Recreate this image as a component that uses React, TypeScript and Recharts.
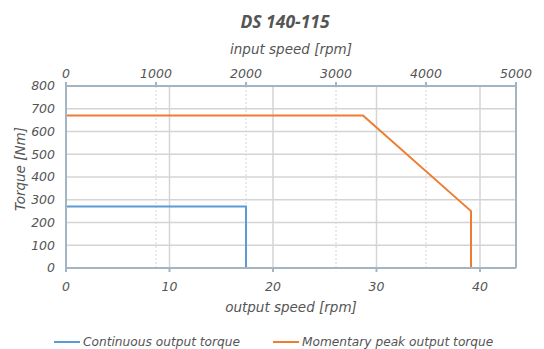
import React from 'react';
import { LineChart, Line, XAxis, YAxis, CartesianGrid, Label } from 'recharts';

const RATIO = 115;
const INPUT_MAX = 5000;
const inputTicks = [0, 1000, 2000, 3000, 4000, 5000];
const outputTicks = [0, 10, 20, 30, 40];
const torqueTicks = [0, 100, 200, 300, 400, 500, 600, 700, 800];

// input speed [rpm] -> torque [Nm]
const continuousRpm = [0, 2000, 2000];
const continuousTorque = [270, 270, 0];
const peakRpm = [0, 3300, 4500, 4500];
const peakTorque = [670, 670, 250, 0];

const continuousData = continuousRpm.map((r, i) => ({ rpm: r, torque: continuousTorque[i] }));
const peakData = peakRpm.map((r, i) => ({ rpm: r, torque: peakTorque[i] }));
const outputRange = [0, INPUT_MAX / RATIO].map((o) => ({ out: o, torque: null }));

const FONT = '"DejaVu Sans", sans-serif';
const TXT = '#555555';
const AXIS = '#a3b5c3';
const GRID = '#d4d4d4';
const BLUE = '#5b9bd5';
const ORANGE = '#ed7d31';

const tickStyle = { fill: TXT, fontSize: 12.5, fontStyle: 'italic', fontFamily: FONT };

export default function App() {
  return (
    <div style={{ position: 'fixed', left: 0, top: 0, width: 544, height: 349, background: '#fff', overflow: 'hidden' }}>
      <div
        style={{
          position: 'absolute', left: 0, top: 9, width: 570, textAlign: 'center', lineHeight: '24px',
          fontFamily: '"Open Sans", sans-serif', fontStyle: 'italic', fontWeight: 700, fontSize: 17.5, color: TXT,
        }}
      >
        DS 140-115
      </div>
      <LineChart width={544} height={349} margin={{ top: 30, right: 20, bottom: 36, left: 26 }}>
        <CartesianGrid xAxisId="bottom" yAxisId="left" stroke={GRID} strokeWidth={1.5} horizontal vertical />
        <CartesianGrid xAxisId="top" yAxisId="left" stroke={GRID} strokeDasharray="2 2" horizontal={false} vertical />
        <XAxis
          xAxisId="top" orientation="top" type="number" dataKey="rpm" domain={[0, INPUT_MAX]} ticks={inputTicks}
          allowDataOverflow height={56} tick={tickStyle} stroke={AXIS} strokeWidth={2} tickSize={4} tickMargin={4}
          tickLine={{ stroke: AXIS }} interval={0}
        >
          <Label value="input speed [rpm]" position="top" offset={-24} style={{ ...tickStyle, fontSize: 13.5 }} />
        </XAxis>
        <XAxis
          xAxisId="bottom" orientation="bottom" type="number" dataKey="out" domain={[0, INPUT_MAX / RATIO]}
          ticks={outputTicks} allowDataOverflow height={45} tick={tickStyle} stroke={AXIS} strokeWidth={2}
          tickSize={4} tickMargin={10} tickLine={{ stroke: AXIS }} interval={0}
        >
          <Label value="output speed [rpm]" position="bottom" offset={-11} style={{ ...tickStyle, fontSize: 13.5 }} />
        </XAxis>
        <YAxis
          yAxisId="left" type="number" domain={[0, 800]} ticks={torqueTicks} width={40} tick={tickStyle}
          stroke={AXIS} strokeWidth={2} tickLine={false} tickSize={0} tickMargin={11} interval={0}
        >
          <Label value="Torque [Nm]" angle={-90} position="insideLeft" offset={-6} dy={-8}
            style={{ ...tickStyle, fontSize: 13.5, textAnchor: 'middle' }} />
        </YAxis>
        <YAxis
          yAxisId="right" orientation="right" type="number" domain={[0, 800]} ticks={torqueTicks} width={8}
          stroke={AXIS} strokeWidth={2} tickSize={4} tickLine={{ stroke: AXIS }} tickFormatter={() => ''} interval={0}
        />
        <Line xAxisId="bottom" yAxisId="left" data={outputRange} dataKey="torque" type="linear"
          stroke="none" dot={false} isAnimationActive={false} legendType="none" />
        <Line xAxisId="top" yAxisId="left" data={continuousData} dataKey="torque" type="linear"
          stroke={BLUE} strokeWidth={2} dot={false} isAnimationActive={false} />
        <Line xAxisId="top" yAxisId="left" data={peakData} dataKey="torque" type="linear"
          stroke={ORANGE} strokeWidth={2} dot={false} isAnimationActive={false} />
      </LineChart>
      <div style={{ position: 'absolute', left: 54, top: 335, height: 14, display: 'flex', alignItems: 'center', lineHeight: '14px',
        fontFamily: FONT, fontStyle: 'italic', fontSize: 12.2, color: TXT, whiteSpace: 'nowrap' }}>
        <span style={{ display: 'inline-block', width: 26, height: 2, background: BLUE, marginRight: 3 }} />
        <span style={{ width: 190 }}>Continuous output torque</span>
        <span style={{ display: 'inline-block', width: 26, height: 2, background: ORANGE, marginRight: 3 }} />
        <span>Momentary peak output torque</span>
      </div>
    </div>
  );
}
